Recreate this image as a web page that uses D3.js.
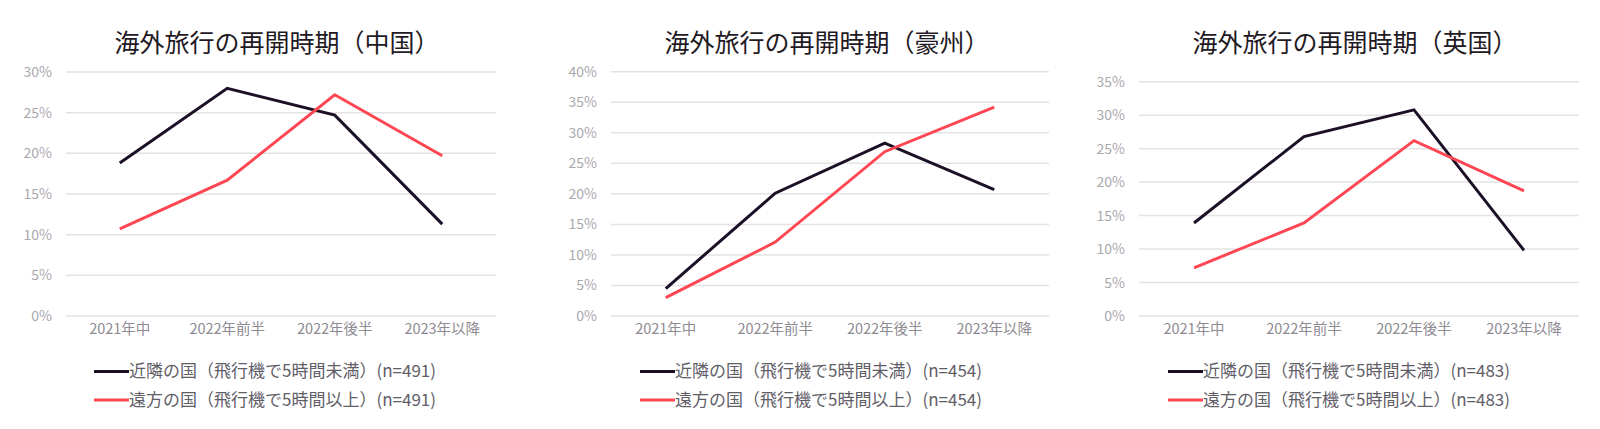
<!DOCTYPE html>
<html>
<head>
<meta charset="utf-8">
<script src="https://cdn.jsdelivr.net/npm/d3@7"></script>
<style>
  html, body { margin: 0; padding: 0; background: #ffffff; }
  svg { display: block; font-family: "Noto Sans CJK JP", "Noto Sans", sans-serif; }
</style>
</head>
<body>
<svg id="chart" width="1600" height="429"></svg>
<script>
// ---- Data ----
const categories = ["2021年中", "2022年前半", "2022年後半", "2023年以降"];
const seriesNames = ["近隣の国（飛行機で5時間未満）", "遠方の国（飛行機で5時間以上）"];
const panelTitles = ["海外旅行の再開時期（中国）", "海外旅行の再開時期（豪州）", "海外旅行の再開時期（英国）"];
const sampleSizes = [491, 454, 483];
const yMaxes = [30, 40, 35];

const chinaNear = [18.8, 28.0, 24.7, 11.3];
const chinaFar  = [10.7, 16.7, 27.2, 19.7];
const ausNear   = [4.5, 20.1, 28.3, 20.7];
const ausFar    = [3.0, 12.1, 26.9, 34.2];
const ukNear    = [13.9, 26.8, 30.8, 9.8];
const ukFar     = [7.2, 13.9, 26.2, 18.7];

const panelData = [
  [chinaNear, chinaFar],
  [ausNear, ausFar],
  [ukNear, ukFar]
];

// ---- Layout ----
const colors = ["#1c1026", "#ff4753"];
const layouts = [
  { x0: 66, x1: 496, titleX: 277, legendX: 94 },
  { x0: 611, x1: 1049, titleX: 827, legendX: 640 },
  { x0: 1139, x1: 1579, titleX: 1355, legendX: 1168 }
];
const yTop = [72, 71.7, 81.7];
const yBottom = 316;

const svg = d3.select("#chart");

panelData.forEach((series, p) => {
  const L = layouts[p];
  const g = svg.append("g");

  const x = d3.scaleBand().domain(categories).range([L.x0, L.x1]);
  const y = d3.scaleLinear().domain([0, yMaxes[p]]).range([yBottom, yTop[p]]);
  const ticks = d3.range(0, yMaxes[p] + 0.001, 5);

  // Title
  g.append("text")
    .attr("x", L.titleX).attr("y", 52)
    .attr("text-anchor", "middle")
    .attr("font-size", 25)
    .attr("fill", "#1f1a24")
    .text(panelTitles[p]);

  // Gridlines
  g.append("g").selectAll("line").data(ticks).join("line")
    .attr("x1", L.x0).attr("x2", L.x1)
    .attr("y1", d => y(d)).attr("y2", d => y(d))
    .attr("stroke", "#e3e3e3").attr("stroke-width", 1.5);

  // Y axis labels
  const yAxis = d3.axisLeft(y).tickValues(ticks).tickSize(0).tickPadding(14)
    .tickFormat(d => d + "%");
  const ya = g.append("g").attr("transform", `translate(${L.x0},0)`).call(yAxis);
  ya.select(".domain").remove();
  ya.selectAll("text").attr("font-size", 14).attr("fill", "#aaa7ae")
    .attr("font-family", "'Noto Sans CJK JP', sans-serif");

  // X axis labels
  const xAxis = d3.axisBottom(x).tickSize(0).tickPadding(8);
  const xa = g.append("g").attr("transform", `translate(0,${yBottom})`).call(xAxis);
  xa.select(".domain").remove();
  xa.selectAll("text").attr("font-size", 14.5).attr("fill", "#8e8a92")
    .attr("font-family", "'Noto Sans CJK JP', sans-serif");

  // Lines
  const line = d3.line()
    .x((d, i) => x(categories[i]) + x.bandwidth() / 2)
    .y(d => y(d));
  series.forEach((vals, s) => {
    g.append("path")
      .datum(vals)
      .attr("d", line)
      .attr("fill", "none")
      .attr("stroke", colors[s])
      .attr("stroke-width", 3)
      .attr("stroke-linejoin", "miter");
  });

  // Legend
  const legendYs = [371.5, 400];
  seriesNames.forEach((name, s) => {
    const ly = legendYs[s];
    g.append("line")
      .attr("x1", L.legendX).attr("x2", L.legendX + 35)
      .attr("y1", ly).attr("y2", ly)
      .attr("stroke", colors[s]).attr("stroke-width", 3);
    g.append("text")
      .attr("x", L.legendX + 35).attr("y", ly)
      .attr("dy", "0.35em")
      .attr("font-size", 17)
      .attr("fill", "#625e68")
      .text(name + "(n=" + sampleSizes[p] + ")");
  });
});
</script>
</body>
</html>
